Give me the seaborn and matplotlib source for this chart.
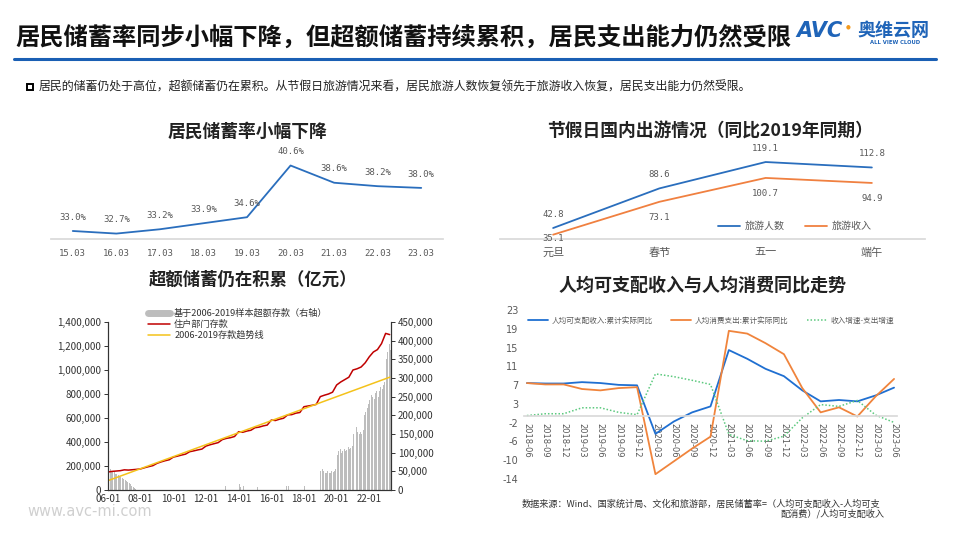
import numpy as np
import matplotlib
matplotlib.use("Agg")
import matplotlib.pyplot as plt
import seaborn as sns
from matplotlib.lines import Line2D
from matplotlib.patches import Rectangle
from matplotlib.ticker import FuncFormatter

# ---- data ----
# 1. 居民储蓄率
rate_labels = ["15.03", "16.03", "17.03", "18.03", "19.03", "20.03", "21.03", "22.03", "23.03"]
save_rate = [33.0, 32.7, 33.2, 33.9, 34.6, 40.6, 38.6, 38.2, 38.0]

# 2. 节假日出游 (同比2019年同期, %)
holidays = ["元旦", "春节", "五一", "端午"]
tour_people = [42.8, 88.6, 119.1, 112.8]
tour_income = [35.1, 73.1, 100.7, 94.9]

# 3. 住户部门存款 (亿元), quarterly from 2006-01 to 2023-04
deposit_q = [
    150000, 155000, 158000, 161000,
    168000, 166000, 169000, 172000,
    176000, 186000, 195000, 203000,
    222000, 234000, 244000, 252000,
    274000, 282000, 291000, 299000,
    319000, 326000, 334000, 341000,
    366000, 377000, 386000, 395000,
    420000, 430000, 436000, 446000,
    486000, 481000, 491000, 498000,
    519000, 524000, 534000, 541000,
    583000, 579000, 590000, 598000,
    626000, 628000, 640000, 646000,
    694000, 700000, 706000, 713000,
    778000, 790000, 800000, 815000,
    875000, 900000, 920000, 940000,
    1000000, 1010000, 1025000, 1060000,
    1110000, 1150000, 1170000, 1220000,
    1305000, 1295000,
]
trend_x = [2006.0, 2023.25]
trend_y = [78000, 940000]
# 基于2006-2019样本超额存款 (右轴), monthly 2006-01 .. 2023-04
excess_m = (
    [58000, 55000, 52000, 50000, 47000, 44000, 42000, 40000, 37000, 34000, 32000, 30000]
    + [27000, 25000, 22000, 18000, 15000, 12000, 8000, 5000, 2000, 0, 0, 0]
    + [0] * 60
    + [0, 0, 10000, 0, 0, 0, 0, 0, 0, 0, 0, 0]
    + [15000, 8000, 0, 10000, 0, 0, 0, 0, 0, 0, 0, 0]
    + [0, 8000, 0, 0, 0, 0, 0, 0, 0, 0, 0, 0]
    + [0, 0, 0, 0, 0, 0, 0, 0, 0, 0, 0, 10000]
    + [12000, 0, 0, 0, 0, 0, 0, 0, 0, 0, 0, 0]
    + [10000, 0, 0, 0, 0, 0, 0, 0, 0, 0, 0, 0]
    + [50000, 55000, 52000, 45000, 45000, 50000, 45000, 45000, 52000, 48000, 50000, 55000]
    + [95000, 105000, 110000, 100000, 105000, 110000, 105000, 108000, 115000, 110000, 112000, 118000]
    + [150000, 165000, 170000, 155000, 150000, 155000, 150000, 160000, 200000, 210000, 220000, 230000]
    + [240000, 255000, 250000, 245000, 260000, 265000, 250000, 265000, 275000, 270000, 280000, 290000]
    + [350000, 370000, 390000, 375000]
)
dep_ticks = ["06-01", "08-01", "10-01", "12-01", "14-01", "16-01", "18-01", "20-01", "22-01"]

# 4. 人均可支配收入与人均消费同比
quarters = ["2018-06", "2018-09", "2018-12", "2019-03", "2019-06", "2019-09", "2019-12",
            "2020-03", "2020-06", "2020-09", "2020-12", "2021-03", "2021-06", "2021-09",
            "2021-12", "2022-03", "2022-06", "2022-09", "2022-12", "2023-03", "2023-06"]
income_yoy = [7.1, 7.0, 7.0, 7.3, 7.1, 6.7, 6.6, -4.0, -1.3, 0.7, 2.0, 14.3, 12.4, 10.2,
              8.6, 5.5, 3.1, 3.4, 3.1, 4.4, 6.1]
consume_yoy = [7.1, 6.8, 6.8, 5.8, 5.5, 6.0, 6.2, -12.8, -10.0, -7.2, -4.6, 18.5, 17.9, 15.8,
               13.4, 6.0, 0.7, 1.8, -0.2, 4.2, 8.0]
gap_yoy = [0.0, 0.4, 0.4, 1.7, 1.7, 0.7, 0.2, 9.1, 8.5, 7.7, 6.8, -4.1, -5.5, -5.6,
           -4.5, -0.5, 2.4, 2.0, 3.3, 0.1, -1.5]
yoy_tick_labels = ["-14", "-10", "-6", "-2", "3", "7", "11", "15", "19", "23"]

# ---- style ----
sns.set_theme(style="white")
plt.rcParams['font.family'] = ['Noto Sans CJK SC', 'DejaVu Sans']
plt.rcParams['axes.unicode_minus'] = False

BLUE = "#2a6ebd"
ORANGE = "#f08040"
GREY = "#595959"
MONO = "DejaVu Sans Mono"

fig = plt.figure(figsize=(9.6, 5.4), dpi=100)


def rect(l, t, r, b):
    return [l / 960, 1 - b / 540, (r - l) / 960, (b - t) / 540]


def fy(y):
    return 1 - y / 540


# header
fig.text(15 / 960, fy(38), "居民储蓄率同步小幅下降，但超额储蓄持续累积，居民支出能力仍然受限",
         fontsize=17.5, fontweight='bold', color='#111111', va='center', ha='left')
fig.text(796 / 960, fy(31), "AVC", family='DejaVu Sans', fontsize=15, fontweight='bold',
         style='italic', color='#1f64b8', va='center', ha='left')
fig.text(846 / 960, fy(27), "●", family='DejaVu Sans', fontsize=4, color='#f39a1e', va='center')
fig.text(857 / 960, fy(31), "奥维云网", fontsize=13, fontweight='bold', color='#1f64b8', va='center')
fig.text(870 / 960, fy(43), "ALL VIEW CLOUD", family='DejaVu Sans', fontsize=3.8, fontweight='bold',
         color='#1f64b8', va='center')
fig.add_artist(Line2D([14 / 960, 936 / 960], [fy(59), fy(59)], color='#1a5fb4', lw=2.2))
fig.add_artist(Rectangle((27 / 960, fy(90)), 6 / 960, 6 / 540, fill=False, lw=1.4, ec='black'))
fig.text(39 / 960, fy(87), "居民的储蓄仍处于高位，超额储蓄仍在累积。从节假日旅游情况来看，"
         "居民旅游人数恢复领先于旅游收入恢复，居民支出能力仍然受限。",
         fontsize=8.6, color='#222222', va='center')

# ---- chart 1 ----
fig.text(247 / 960, fy(132), "居民储蓄率小幅下降", fontsize=12.8, fontweight='bold',
         ha='center', va='center', color='#222222')
ax1 = fig.add_axes(rect(51, 150, 443, 239))
x1 = np.arange(len(save_rate))
sns.lineplot(x=x1, y=save_rate, ax=ax1, color=BLUE, lw=1.3)
for i, v in enumerate(save_rate):
    ax1.annotate(f"{v:.1f}%", (i, v), xytext=(0, 10), textcoords='offset points',
                 ha='center', va='center', fontsize=6.5, family=MONO, color=GREY)
ax1.set_xlim(-0.5, 8.5)
ax1.set_ylim(32.07, 42.4)
ax1.set_xticks(x1)
ax1.set_xticklabels(rate_labels, family=MONO, fontsize=6.5, color=GREY)
ax1.set_yticks([])
ax1.tick_params(axis='x', length=0, pad=7)
for s in ['left', 'right', 'top']:
    ax1.spines[s].set_visible(False)
ax1.spines['bottom'].set_color('#d9d9d9')
ax1.patch.set_visible(False)

# ---- chart 2 ----
fig.text(710 / 960, fy(132), "节假日国内出游情况（同比2019年同期）", fontsize=12.8, fontweight='bold',
         ha='center', va='center', color='#222222')
ax2 = fig.add_axes(rect(500, 150, 925, 239))
x2 = np.arange(len(holidays))
sns.lineplot(x=x2, y=tour_people, ax=ax2, color=BLUE, lw=1.3, label="旅游人数")
sns.lineplot(x=x2, y=tour_income, ax=ax2, color=ORANGE, lw=1.3, label="旅游收入")
for i, v in enumerate(tour_people):
    ax2.annotate(f"{v:.1f}", (i, v), xytext=(0, 10), textcoords='offset points',
                 ha='center', va='center', fontsize=6.5, family=MONO, color=GREY)
below_offsets = [-3, -11, -11, -11]
for i, v in enumerate(tour_income):
    ax2.annotate(f"{v:.1f}", (i, v), xytext=(0, below_offsets[i]), textcoords='offset points',
                 ha='center', va='center', fontsize=6.5, family=MONO, color=GREY)
ax2.set_xlim(-0.5, 3.5)
ax2.set_ylim(30.1, 133)
ax2.set_xticks(x2)
ax2.set_xticklabels(holidays, fontsize=8, color=GREY)
ax2.set_yticks([])
ax2.tick_params(axis='x', length=0, pad=6)
for s in ['left', 'right', 'top']:
    ax2.spines[s].set_visible(False)
ax2.spines['bottom'].set_color('#d9d9d9')
ax2.patch.set_visible(False)
ax2.legend(loc='center', bbox_to_anchor=(795 / 960, fy(226)), bbox_transform=fig.transFigure,
           ncol=2, frameon=False, fontsize=7.2, handlelength=2.2, columnspacing=2.0,
           handletextpad=0.5, labelcolor=GREY)

# ---- chart 3 ----
fig.text(253 / 960, fy(280), "超额储蓄仍在积累（亿元）", fontsize=12.5, fontweight='bold',
         ha='center', va='center', color='#222222')
ax3 = fig.add_axes(rect(108, 322, 391, 490))
ax3r = ax3.twinx()
xm = 2006 + np.arange(len(excess_m)) / 12 + 1 / 24
ax3r.bar(xm, excess_m, width=1 / 12 * 0.72, color='#bdbdbd', linewidth=0)
xq = 2006 + np.arange(len(deposit_q)) * 0.25
sns.lineplot(x=xq, y=deposit_q, ax=ax3, color='#c00000', lw=1.1)
sns.lineplot(x=trend_x, y=trend_y, ax=ax3, color='#f4c21a', lw=1.1)
ax3.set_zorder(ax3r.get_zorder() + 1)
ax3.patch.set_visible(False)
ax3.set_xlim(2006, 2023.33)
ax3.set_ylim(0, 1400000)
ax3r.set_ylim(0, 450000)
ax3.set_yticks(np.arange(0, 1400001, 200000))
ax3r.set_yticks(np.arange(0, 450001, 50000))
comma = FuncFormatter(lambda v, p: f"{int(v):,}")
ax3.yaxis.set_major_formatter(comma)
ax3r.yaxis.set_major_formatter(comma)
ax3.set_xticks(np.arange(2006, 2023, 2))
ax3.set_xticklabels(dep_ticks)
for a in (ax3, ax3r):
    a.tick_params(labelsize=7, colors='#333333', length=3, width=0.7, direction='out', pad=2)
    a.grid(False)
    a.spines['top'].set_visible(False)
    for s in ['left', 'right', 'bottom']:
        a.spines[s].set_color('#333333')
        a.spines[s].set_linewidth(0.8)
ax3.tick_params(axis='x', direction='in', length=2.5, pad=3)
ax3.set_xlabel("")
handles3 = [Line2D([], [], color='#bdbdbd', lw=5),
            Line2D([], [], color='#c00000', lw=1.1),
            Line2D([], [], color='#f4c21a', lw=1.1)]
labels3 = ["基于2006-2019样本超额存款（右轴）", "住户部门存款", "2006-2019存款趋势线"]
ax3.legend(handles3, labels3, loc='upper left', bbox_to_anchor=(143 / 960, fy(304)),
           bbox_transform=fig.transFigure, frameon=False, fontsize=6.6, handlelength=2.4,
           handletextpad=0.5, labelspacing=0.2, borderpad=0, labelcolor='#333333')

# ---- chart 4 ----
fig.text(703 / 960, fy(285), "人均可支配收入与人均消费同比走势", fontsize=13, fontweight='bold',
         ha='center', va='center', color='#222222')
ax4 = fig.add_axes(rect(524, 310, 897, 479))
# spine position first: moving it resets the tick objects
for s in ['left', 'right', 'top']:
    ax4.spines[s].set_visible(False)
ax4.spines['bottom'].set_position(('data', 0))
ax4.spines['bottom'].set_color('#d9d9d9')
x4 = np.arange(len(quarters))
sns.lineplot(x=x4, y=income_yoy, ax=ax4, color='#1f6fd1', lw=1.3, label="人均可支配收入:累计实际同比")
sns.lineplot(x=x4, y=consume_yoy, ax=ax4, color='#f0843c', lw=1.3, label="人均消费支出:累计实际同比")
sns.lineplot(x=x4, y=gap_yoy, ax=ax4, color='#5cc97e', lw=1.1, label="收入增速-支出增速")
ax4.lines[2].set_linestyle((0, (1, 1.3)))
ax4.set_xlim(-0.16, 20.16)
ax4.set_ylim(-13.85, 23.05)
ax4.set_yticks(-13.85 + 4.1 * np.arange(len(yoy_tick_labels)))
ax4.set_yticklabels(yoy_tick_labels, fontsize=7, color=GREY, family='DejaVu Sans')
ax4.set_xticks(x4)
ax4.set_xticklabels(quarters, fontsize=6, color=GREY, family='DejaVu Sans')
ax4.tick_params(axis='both', length=0)
ax4.tick_params(axis='x', pad=5)
ax4.tick_params(axis='y', pad=4)
plt.setp(ax4.get_xticklabels(), rotation=-90, ha='center', va='top')
ax4.patch.set_visible(False)
ax4.legend(loc='center', bbox_to_anchor=(711 / 960, fy(321)), bbox_transform=fig.transFigure,
           ncol=3, frameon=False, fontsize=5.5, handlelength=2.6, columnspacing=2.4,
           handletextpad=0.5, labelcolor=GREY)

# footer / source
fig.text(522 / 960, fy(504), "数据来源：Wind、国家统计局、文化和旅游部，居民储蓄率=（人均可支配收入-人均可支",
         fontsize=6.6, color='#333333', va='center')
fig.text(780 / 960, fy(514), "配消费）/人均可支配收入", fontsize=6.6, color='#333333', va='center')
fig.text(27 / 960, fy(512), "www.avc-mi.com", family='DejaVu Sans', fontsize=10.5,
         color='#d0d0d0', va='center')

fig.savefig("out.png", dpi=100)
